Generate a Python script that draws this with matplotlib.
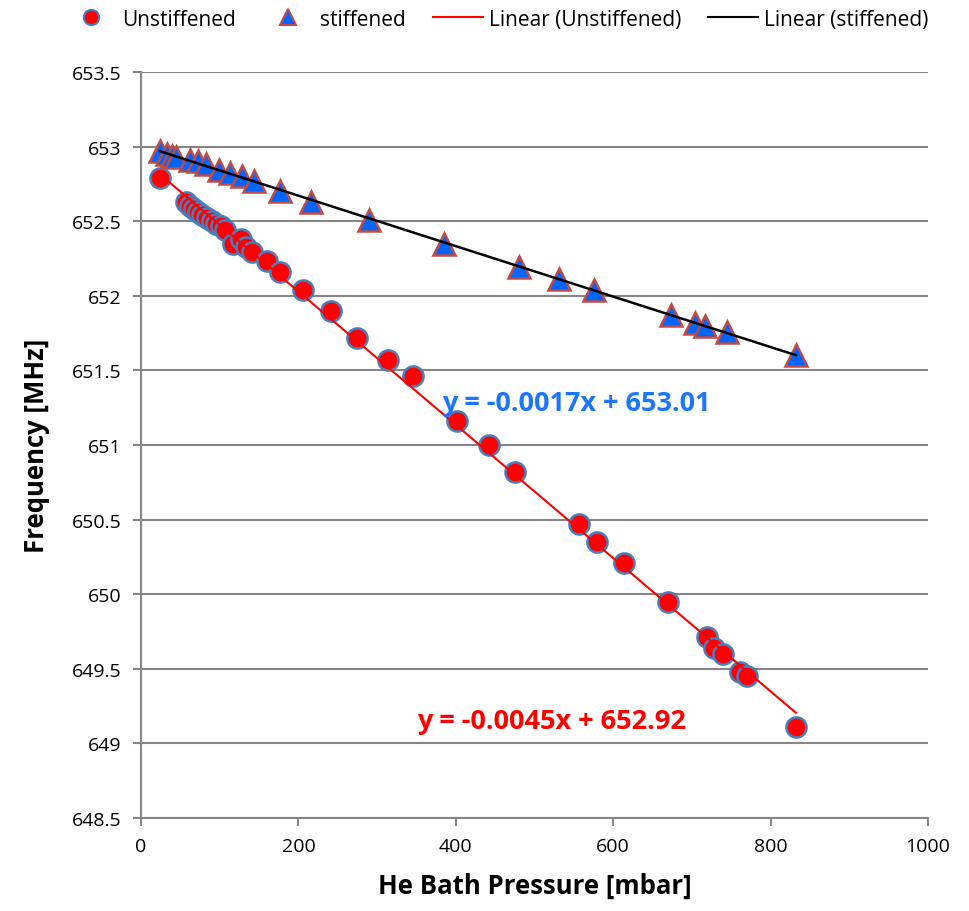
from matplotlib import pyplot as plt
from matplotlib.lines import Line2D
import numpy as np

plt.rcParams['font.family'] = ['Open Sans', 'DejaVu Sans']

# unstiffened cavity: pressure [mbar], frequency [MHz]
p_unstiff = np.array([24, 57, 62, 67, 73, 78, 84, 90, 95, 101, 107, 117, 127, 134, 141,
                      160, 176, 206, 242, 275, 314, 345, 402, 442, 475, 557, 580, 614,
                      670, 719, 728, 740, 761, 770, 832])
f_unstiff = np.array([652.79, 652.63, 652.60, 652.58, 652.56, 652.54, 652.52, 652.50, 652.48,
                      652.47, 652.44, 652.35, 652.38, 652.33, 652.29, 652.23, 652.16, 652.04,
                      651.90, 651.72, 651.57, 651.46, 651.16, 651.00, 650.82, 650.47, 650.35,
                      650.21, 649.95, 649.71, 649.64, 649.60, 649.48, 649.45, 649.11])

# stiffened cavity
p_stiff = np.array([24, 33, 39, 44, 62, 72, 83, 99, 113, 128, 144, 177, 216, 290, 385,
                    480, 531, 575, 674, 704, 717, 744, 832])
f_stiff = np.array([652.97, 652.95, 652.94, 652.93, 652.91, 652.90, 652.88, 652.84, 652.82,
                    652.80, 652.77, 652.70, 652.63, 652.51, 652.35, 652.19, 652.11, 652.04,
                    651.87, 651.82, 651.80, 651.76, 651.60])

eq_unstiff = 'y = -0.0045x + 652.92'
eq_stiff = 'y = -0.0017x + 653.01'

grey = '#868686'

fig = plt.figure(figsize=(9.7, 9.12), dpi=100)
ax = fig.add_axes([0.1454, 0.102, 0.8113, 0.818])

# linear trendlines
k_u = np.polyfit(p_unstiff, f_unstiff, 1)
k_s = np.polyfit(p_stiff, f_stiff, 1)
xu = np.array([p_unstiff.min(), p_unstiff.max()])
xs = np.array([p_stiff.min(), p_stiff.max()])
ax.plot(xu, np.polyval(k_u, xu), '-', color='red', linewidth=1.5, zorder=4)
ax.plot(xs, np.polyval(k_s, xs), '-', color='black', linewidth=1.8, zorder=4)

ax.plot(p_unstiff, f_unstiff, 'o', markersize=14.5, markerfacecolor='red',
        markeredgecolor='#4A7EBB', markeredgewidth=1.8, linestyle='none', zorder=3)
ax.plot(p_stiff, f_stiff, '^', markersize=15.5, markerfacecolor='#0066FF',
        markeredgecolor='#BE4B48', markeredgewidth=1.8, linestyle='none', zorder=3)

ax.text(382, 651.28, eq_stiff, color='#1A75FF', fontsize=19.5, fontweight='bold',
        va='center', ha='left', zorder=5)
ax.text(351, 649.15, eq_unstiff, color='red', fontsize=19.5, fontweight='bold',
        va='center', ha='left', zorder=5)

ax.set_xlim(0, 1000)
ax.set_ylim(648.5, 653.5)
ax.set_xticks(np.arange(0, 1001, 200))
ax.set_yticks(np.arange(648.5, 653.51, 0.5))
ax.set_yticklabels(['648.5', '649', '649.5', '650', '650.5', '651', '651.5', '652',
                    '652.5', '653', '653.5'])
ax.grid(True, axis='y', color=grey, linewidth=1.5)
ax.set_axisbelow(True)
for s in ['top', 'right']:
    ax.spines[s].set_visible(False)
for s in ['left', 'bottom']:
    ax.spines[s].set_color(grey)
    ax.spines[s].set_linewidth(1.5)
ax.tick_params(axis='both', direction='out', length=6, width=1.5, color=grey,
               labelsize=14, pad=8)

ax.set_xlabel('He Bath Pressure [mbar]', fontsize=18.5, fontweight='bold', labelpad=12)
ax.set_ylabel('Frequency [MHz]', fontsize=18.5, fontweight='bold', labelpad=16)

handles = [
    Line2D([], [], marker='o', linestyle='none', markersize=11, markerfacecolor='red',
           markeredgecolor='#4A7EBB', markeredgewidth=1.5),
    Line2D([], [], marker='^', linestyle='none', markersize=11, markerfacecolor='#0066FF',
           markeredgecolor='#BE4B48', markeredgewidth=1.5),
    Line2D([], [], color='red', linewidth=1.5),
    Line2D([], [], color='black', linewidth=1.5),
]
labels = ['Unstiffened', 'stiffened', 'Linear (Unstiffened)', 'Linear (stiffened)']
fig.legend(handles, labels, loc='upper center', bbox_to_anchor=(0.513, 1.01), ncol=4,
           frameon=False, fontsize=15, handlelength=2.4, handletextpad=0.3,
           columnspacing=1.3)

fig.savefig('out.png', dpi=100)
